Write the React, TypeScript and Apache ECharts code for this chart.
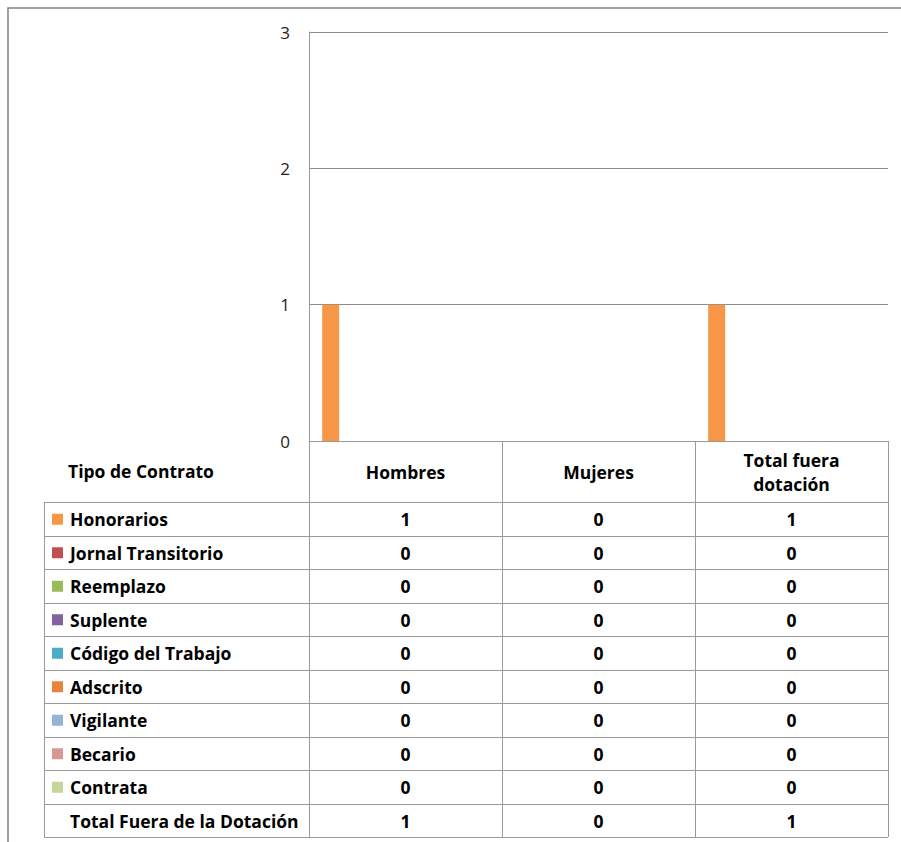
import React, { useEffect, useRef } from "react";
import * as echarts from "echarts";

const categories = ["Hombres", "Mujeres", "Total fuera\ndotación"];
const seriesNames = [
  "Honorarios",
  "Jornal Transitorio",
  "Reemplazo",
  "Suplente",
  "Código del Trabajo",
  "Adscrito",
  "Vigilante",
  "Becario",
  "Contrata",
];
const honorarios = [1, 0, 1];
const jornalTransitorio = [0, 0, 0];
const reemplazo = [0, 0, 0];
const suplente = [0, 0, 0];
const codigoTrabajo = [0, 0, 0];
const adscrito = [0, 0, 0];
const vigilante = [0, 0, 0];
const becario = [0, 0, 0];
const contrata = [0, 0, 0];
const totalFuera = [1, 0, 1];
const totalLabel = "Total Fuera de la Dotación";
const tableTitle = "Tipo de Contrato";
const colors = [
  "#F79646",
  "#C0504D",
  "#9BBB59",
  "#8064A2",
  "#4BACC6",
  "#E9823A",
  "#95B3D7",
  "#D99694",
  "#C3D69B",
];

const seriesValues = [
  honorarios,
  jornalTransitorio,
  reemplazo,
  suplente,
  codigoTrabajo,
  adscrito,
  vigilante,
  becario,
  contrata,
];

const FONT = "'Open Sans', 'Noto Sans', sans-serif";
const FS = 17.5;

export default function App() {
  const ref = useRef<HTMLDivElement>(null);
  useEffect(() => {
    document.body.style.margin = "0";
    if (!ref.current) return;
    const chart = echarts.init(ref.current, null, { renderer: "svg" });

    const gridLeft = 309;
    const gridTop = 32;
    const gridRight = 888;
    const gridBottom = 441;
    const tableLeft = 44;
    const headerBottom = 502;
    const rowH = 33.5;
    const colW = (gridRight - gridLeft) / categories.length;
    const lineColor = "#9a9a9a";
    const rows = [...seriesNames.map((n, i) => ({ name: n, vals: seriesValues[i], color: colors[i] })), { name: totalLabel, vals: totalFuera, color: null as string | null }];
    const tableBottom = headerBottom + rowH * rows.length;

    const graphics: any[] = [];
    graphics.push({
      type: "rect",
      shape: { x: 8, y: 8, width: 1000, height: 1000 },
      style: { fill: "none", stroke: "#808080", lineWidth: 1.5 },
      silent: true,
    });
    for (let k = 0; k <= rows.length; k++) {
      const y = Math.round(headerBottom + rowH * k) + 0.5;
      graphics.push({
        type: "line",
        shape: { x1: tableLeft, y1: y, x2: gridRight, y2: y },
        style: { stroke: lineColor, lineWidth: 1 },
      });
    }
    graphics.push({
      type: "line",
      shape: { x1: tableLeft + 0.5, y1: headerBottom, x2: tableLeft + 0.5, y2: tableBottom },
      style: { stroke: lineColor, lineWidth: 1 },
    });
    for (let c = 0; c <= categories.length; c++) {
      const x = Math.round(gridLeft + colW * c) + 0.5;
      graphics.push({
        type: "line",
        shape: { x1: x, y1: gridBottom, x2: x, y2: tableBottom },
        style: { stroke: lineColor, lineWidth: 1 },
      });
    }
    graphics.push({
      type: "text",
      x: 68,
      y: 471,
      style: {
        text: tableTitle,
        font: `bold ${FS}px ${FONT}`,
        fill: "#000",
        verticalAlign: "middle",
        align: "left",
      },
    });
    rows.forEach((r, i) => {
      const cy = headerBottom + rowH * i + rowH / 2 + 0.5;
      if (r.color) {
        graphics.push({
          type: "rect",
          shape: { x: 52, y: cy - 5.5, width: 11, height: 11 },
          style: { fill: r.color },
        });
      }
      graphics.push({
        type: "text",
        x: 70,
        y: cy,
        style: {
          text: r.name,
          font: `bold ${FS}px ${FONT}`,
          fill: "#000",
          verticalAlign: "middle",
          align: "left",
        },
      });
      r.vals.forEach((v, c) => {
        graphics.push({
          type: "text",
          x: gridLeft + colW * (c + 0.5),
          y: cy,
          style: {
            text: String(v),
            font: `bold ${FS}px ${FONT}`,
            fill: "#000",
            verticalAlign: "middle",
            align: "center",
          },
        });
      });
    });

    chart.setOption({
      animation: false,
      grid: {
        left: gridLeft,
        top: gridTop,
        right: 901 - gridRight,
        bottom: 842 - gridBottom,
        containLabel: false,
      },
      xAxis: {
        type: "category",
        data: categories,
        axisLine: { show: true, lineStyle: { color: lineColor, width: 1 } },
        axisTick: { show: false },
        axisLabel: {
          margin: 31,
          verticalAlign: "middle",
          fontFamily: FONT,
          fontWeight: "bold",
          fontSize: FS,
          lineHeight: 24,
          color: "#000",
        },
      },
      yAxis: {
        type: "value",
        min: 0,
        max: 3,
        interval: 1,
        axisLine: { show: true, lineStyle: { color: lineColor, width: 1 } },
        axisTick: { show: false },
        splitLine: { lineStyle: { color: "#8c8c8c", width: 1 } },
        axisLabel: {
          margin: 19,
          fontFamily: FONT,
          fontSize: 17,
          color: "#222",
        },
      },
      series: seriesNames.map((name, i) => ({
        name,
        type: "bar",
        data: seriesValues[i],
        barWidth: 17,
        barGap: "10%",
        itemStyle: { color: colors[i] },
      })),
      graphic: graphics,
    });
    return () => {
      chart.dispose();
    };
  }, []);
  return <div ref={ref} style={{ width: 901, height: 842 }} />;
}
